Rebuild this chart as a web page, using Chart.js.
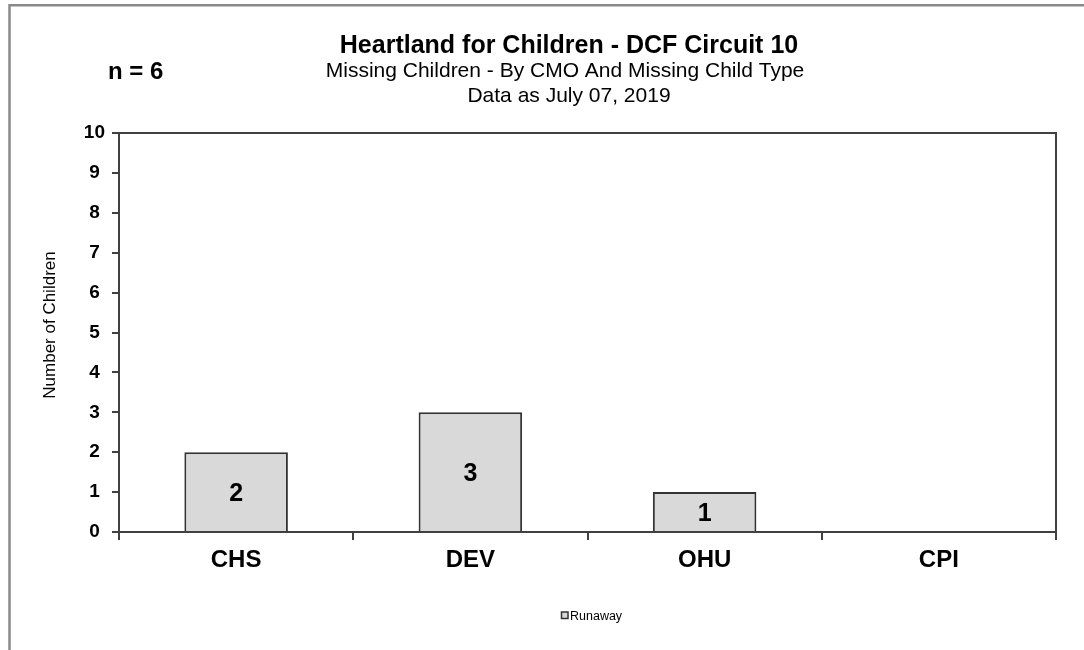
<!DOCTYPE html>
<html>
<head>
<meta charset="utf-8">
<script src="https://cdn.jsdelivr.net/npm/chart.js@4.4.1/dist/chart.umd.min.js"></script>
<style>
  html, body { margin: 0; padding: 0; background: #ffffff; }
  #wrap { width: 1084px; height: 650px; }
</style>
</head>
<body>
<div id="wrap"><canvas id="c" width="1084" height="650"></canvas></div>
<script>
// ---- Data ----
const categories = ['CHS', 'DEV', 'OHU', 'CPI'];
const runawayValues = [2, 3, 1, 0];
const seriesName = 'Runaway';
const yMin = 0;
const yMax = 10;
const yStep = 1;

// ---- Text ----
const titleText = 'Heartland for Children - DCF Circuit 10';
const subtitleLines = ['Missing Children - By CMO And Missing Child Type', 'Data as July 07, 2019'];
const countLabel = 'n = 6';
const yAxisTitle = 'Number of Children';

const FONT = 'Arial, "Liberation Sans", Helvetica, sans-serif';
const AXIS = '#404040';

const decor = {
  id: 'decor',
  beforeDraw(chart) {
    const ctx = chart.ctx;
    ctx.save();
    ctx.fillStyle = '#ffffff';
    ctx.fillRect(0, 0, chart.width, chart.height);
    // outer frame (top + left)
    ctx.strokeStyle = '#8a8a8a';
    ctx.lineWidth = 2.5;
    ctx.beginPath();
    ctx.moveTo(9.5, chart.height);
    ctx.lineTo(9.5, 5.3);
    ctx.lineTo(chart.width, 5.3);
    ctx.stroke();

    ctx.fillStyle = '#000000';
    ctx.textBaseline = 'alphabetic';
    // title
    ctx.textAlign = 'center';
    ctx.font = 'bold 25px ' + FONT;
    ctx.fillText(titleText, 569, 53);
    ctx.font = '21px ' + FONT;
    ctx.fillText(subtitleLines[0], 565, 77);
    ctx.fillText(subtitleLines[1], 569, 101.5);
    // n label
    ctx.textAlign = 'left';
    ctx.font = 'bold 24px ' + FONT;
    ctx.fillText(countLabel, 108, 79);
    // y axis title
    ctx.save();
    ctx.translate(55, 325);
    ctx.rotate(-Math.PI / 2);
    ctx.textAlign = 'center';
    ctx.font = '17px ' + FONT;
    ctx.fillText(yAxisTitle, 0, 0);
    ctx.restore();

    // legend (from dataset)
    const ds = chart.data.datasets[0];
    ctx.fillStyle = ds.backgroundColor;
    ctx.fillRect(561.5, 612, 6.5, 6.5);
    ctx.strokeStyle = '#333333';
    ctx.lineWidth = 1.5;
    ctx.strokeRect(561.5, 612, 6.5, 6.5);
    ctx.fillStyle = '#000000';
    ctx.textAlign = 'left';
    ctx.font = '12.5px ' + FONT;
    ctx.fillText(ds.label, 570, 620);
    ctx.restore();
  },
  afterDatasetsDraw(chart) {
    const ctx = chart.ctx;
    const a = chart.chartArea;
    ctx.save();
    // plot area frame top + right
    ctx.strokeStyle = AXIS;
    ctx.lineWidth = 2;
    ctx.beginPath();
    ctx.moveTo(a.left, a.top);
    ctx.lineTo(a.right, a.top);
    ctx.lineTo(a.right, a.bottom);
    ctx.stroke();
    // value labels
    const meta = chart.getDatasetMeta(0);
    const vals = chart.data.datasets[0].data;
    ctx.fillStyle = '#000000';
    ctx.textAlign = 'center';
    ctx.textBaseline = 'alphabetic';
    ctx.font = 'bold 25px ' + FONT;
    meta.data.forEach((bar, i) => {
      const v = vals[i];
      if (!v) return;
      const cy = (bar.y + bar.base) / 2;
      ctx.fillText(String(v), bar.x, cy + 25 * 0.358);
    });
    ctx.restore();
  }
};

new Chart(document.getElementById('c'), {
  type: 'bar',
  data: {
    labels: categories,
    datasets: [{
      label: seriesName,
      data: runawayValues,
      backgroundColor: '#d9d9d9',
      borderColor: '#333333',
      borderWidth: 2,
      barPercentage: 0.442,
      categoryPercentage: 1.0
    }]
  },
  options: {
    responsive: false,
    animation: false,
    devicePixelRatio: 1,
    layout: { padding: { top: 133, right: 28, left: 59, bottom: 68 } },
    plugins: {
      legend: { display: false },
      title: { display: false },
      tooltip: { enabled: false }
    },
    scales: {
      x: {
        afterFit(scale) { scale.height = 50; },
        grid: { offset: true, drawOnChartArea: false, drawTicks: true, tickLength: 8, color: AXIS, lineWidth: 2 },
        border: { display: true, color: AXIS, width: 2 },
        ticks: { color: '#000000', padding: 6, font: { family: FONT, size: 24, weight: 'bold' }, maxRotation: 0 }
      },
      y: {
        min: yMin,
        max: yMax,
        afterFit(scale) { scale.width = 60; },
        grid: { drawOnChartArea: false, drawTicks: true, tickLength: 7, color: AXIS, lineWidth: 2 },
        border: { display: true, color: AXIS, width: 2 },
        ticks: { stepSize: yStep, color: '#000000', padding: 7, crossAlign: 'center', font: { family: FONT, size: 19, weight: 'bold' } }
      }
    }
  },
  plugins: [decor]
});
</script>
</body>
</html>
